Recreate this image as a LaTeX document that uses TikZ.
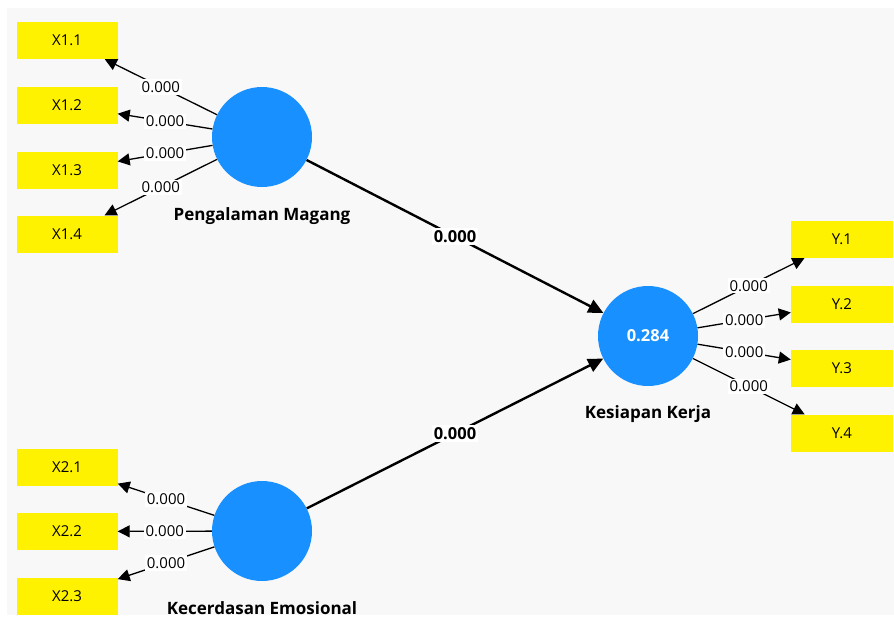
\documentclass[tikz,border=0pt]{standalone}
\usepackage{fontspec}
\setmainfont{Open Sans}
\usetikzlibrary{arrows.meta,positioning}
\definecolor{lvblue}{RGB}{24,144,255}
\definecolor{bggray}{RGB}{248,248,248}

\begin{document}
\begin{tikzpicture}[x=1pt, y=-1pt,
  ind/.style = {fill=yellow, minimum width=101pt, minimum height=37pt,
    inner sep=0pt, font=\fontsize{15}{17}\selectfont},
  lv/.style = {circle, fill=lvblue, minimum size=100pt, inner sep=0pt,
    text=white, font=\bfseries\fontsize{16.5}{18}\selectfont},
  lvname/.style = {font=\bfseries\fontsize{17}{19}\selectfont},
  load/.style = {fill=white, inner sep=2pt, font=\fontsize{15}{17}\selectfont},
  coef/.style = {fill=white, inner sep=2pt, font=\bfseries\fontsize{16.5}{18}\selectfont},
  outarr/.style = {line width=1.3pt, -{Triangle[length=12pt,width=12pt]}},
  inarr/.style = {line width=2.4pt, -{Triangle[length=15pt,width=14pt]}}
  ]
  \useasboundingbox (0,0) rectangle (894,618);
  \fill[white] (0,0) rectangle (894,618);
  \fill[bggray] (7,8) rectangle (894,615);

  % latent variables
  \node[lv] (pm) at (262,137) {};
  \node[lv] (kk) at (648,336) {0.284};
  \node[lv] (ke) at (262,531) {};
  \node[lvname] (pmname) at (262,216) {Pengalaman Magang};
  \node[lvname] (kkname) at (648,414) {Kesiapan Kerja};
  \node[lvname] (kename) at (262,608) {Kecerdasan Emosional};

  % indicators
  \foreach \i/\y in {1/40.5, 2/105.5, 3/170, 4/234}
    \node[ind] (x1-\i) at (67,\y) {X1.\i};
  \foreach \i/\y in {1/467, 2/531.5, 3/596}
    \node[ind] (x2-\i) at (67,\y) {X2.\i};
  \foreach \i/\y in {1/239.5, 2/304, 3/368, 4/433}
    \node[ind, minimum width=102pt] (y-\i) at (842,\y) {Y.\i};

  % loadings
  \foreach \i in {1,...,4}
    \draw[outarr] (pm) -- node[load] {0.000} (x1-\i);
  \foreach \i in {1,...,3}
    \draw[outarr] (ke) -- node[load] {0.000} (x2-\i);
  \foreach \i in {1,...,4}
    \draw[outarr] (kk) -- node[load] {0.000} (y-\i);

  % paths
  \draw[inarr] (pm) -- node[coef] {0.000} (kk);
  \draw[inarr] (ke) -- node[coef] {0.000} (kk);
\end{tikzpicture}
\end{document}
